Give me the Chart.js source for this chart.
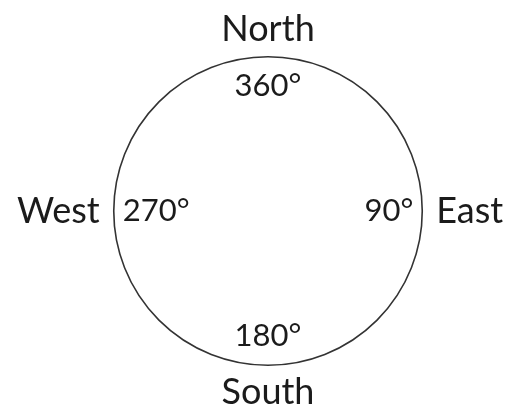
<!DOCTYPE html>
<html>
<head>
<meta charset="utf-8">
<script src="https://cdn.jsdelivr.net/npm/chart.js@4/dist/chart.umd.min.js"></script>
<style>
  html, body { margin: 0; padding: 0; background: #fff; }
  #wrap { width: 512px; height: 412px; }
</style>
</head>
<body>
<div id="wrap"><canvas id="compass"></canvas></div>
<script>
// compass points, clockwise from the top
const directions = ["North", "East", "South", "West"];
const bearings = [360, 90, 180, 270];

// draws the bearing text just inside the ring, one per compass point
const bearingLabels = {
  id: "bearingLabels",
  afterDraw(chart, args, opts) {
    const scale = chart.scales.r;
    const ctx = chart.ctx;
    ctx.save();
    ctx.font = `${opts.size}px ${opts.family}`;
    ctx.fillStyle = opts.color;
    bearings.forEach((b, i) => {
      const vertical = i % 2 === 0;
      const inset = vertical ? opts.insetV : opts.insetH;
      const pos = scale.getPointPosition(i, scale.drawingArea - inset);
      ctx.textBaseline = "middle";
      if (i === 1) ctx.textAlign = "right";
      else if (i === 3) ctx.textAlign = "left";
      else ctx.textAlign = "center";
      ctx.fillText(b + "°", pos.x, pos.y);
    });
    ctx.restore();
  }
};

new Chart(document.getElementById("compass"), {
  type: "radar",
  data: {
    labels: directions,
    datasets: [{
      label: "Bearing",
      data: bearings,
      showLine: false,
      fill: false,
      pointRadius: 0,
      borderWidth: 0
    }]
  },
  options: {
    responsive: true,
    maintainAspectRatio: false,
    animation: false,
    layout: { padding: { top: 12, bottom: 0, left: 10, right: 0 } },
    plugins: {
      legend: { display: false },
      tooltip: { enabled: false },
      bearingLabels: {
        family: "Lato, 'Open Sans', sans-serif",
        size: 31,
        color: "#1b1b1b",
        insetV: 29,
        insetH: 9
      }
    },
    scales: {
      r: {
        min: 0,
        max: 360,
        ticks: { display: false, stepSize: 360 },
        angleLines: { display: false },
        grid: { circular: true, color: "#333", lineWidth: 1.6 },
        pointLabels: {
          padding: 14,
          color: "#1b1b1b",
          font: { family: "Lato, 'Open Sans', sans-serif", size: 36, lineHeight: 0.72 }
        }
      }
    }
  },
  plugins: [bearingLabels]
});
</script>
</body>
</html>
